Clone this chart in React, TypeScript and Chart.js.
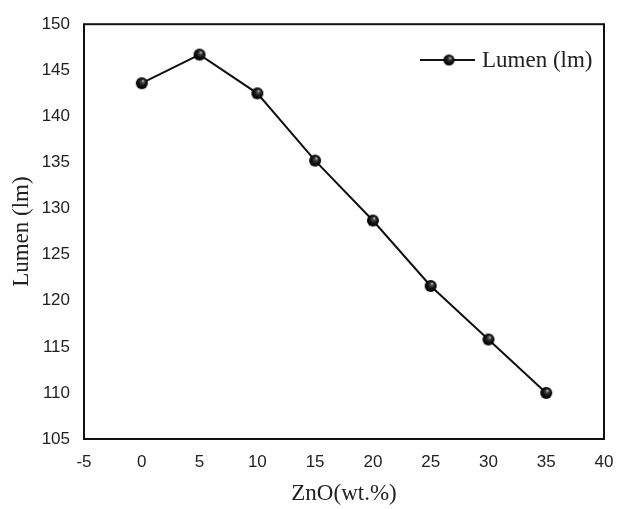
import React, { useEffect, useRef } from "react";
import { Chart, registerables } from "chart.js";

Chart.register(...registerables);

const zno: number[] = [0, 5, 10, 15, 20, 25, 30, 35];
const lumen: number[] = [143.6, 146.7, 142.5, 135.2, 128.7, 121.6, 115.8, 110.0];
const seriesLabel = "Lumen (lm)";
const xTitle = "ZnO(wt.%)";
const yTitle = "Lumen (lm)";

function makeSphere(r: number): HTMLCanvasElement {
  const size = Math.ceil(r * 2 + 2);
  const c = document.createElement("canvas");
  c.width = size;
  c.height = size;
  const ctx = c.getContext("2d")!;
  const cx = size / 2;
  const cy = size / 2;
  const g = ctx.createRadialGradient(cx + r * 0.25, cy - r * 0.4, 0.2, cx, cy, r);
  g.addColorStop(0, "#c8c8c8");
  g.addColorStop(0.25, "#444");
  g.addColorStop(0.6, "#111");
  g.addColorStop(1, "#000");
  ctx.fillStyle = g;
  ctx.beginPath();
  ctx.arc(cx, cy, r, 0, Math.PI * 2);
  ctx.fill();
  return c;
}

export default function App() {
  const ref = useRef<HTMLCanvasElement | null>(null);
  useEffect(() => {
    if (!ref.current) return;
    const sphere = makeSphere(6);
    const legendSphere = makeSphere(5.5);

    const framePlugin = {
      id: "frame",
      afterDatasetsDraw(chart: any) {
        const { ctx, chartArea } = chart;
        ctx.save();
        ctx.strokeStyle = "#111";
        ctx.lineWidth = 2;
        ctx.strokeRect(chartArea.left, chartArea.top, chartArea.right - chartArea.left, chartArea.bottom - chartArea.top);
        ctx.restore();
      },
      afterDraw(chart: any) {
        const { ctx } = chart;
        ctx.save();
        const y = 60;
        ctx.strokeStyle = "#111";
        ctx.lineWidth = 2;
        ctx.beginPath();
        ctx.moveTo(420, y);
        ctx.lineTo(475, y);
        ctx.stroke();
        ctx.drawImage(legendSphere, 449 - legendSphere.width / 2, y - legendSphere.height / 2);
        ctx.fillStyle = "#222";
        ctx.font = "23px 'Liberation Serif', 'Times New Roman', serif";
        ctx.textBaseline = "middle";
        ctx.textAlign = "left";
        ctx.fillText(seriesLabel, 482, y + 1);
        ctx.restore();
      },
    };

    const chart = new Chart(ref.current, {
      type: "scatter",
      data: {
        datasets: [
          {
            label: seriesLabel,
            data: zno.map((x, i) => ({ x, y: lumen[i] })),
            showLine: true,
            borderColor: "#111",
            borderWidth: 2,
            pointStyle: sphere as any,
            pointRadius: 6,
            pointHoverRadius: 6,
          },
        ],
      },
      options: {
        responsive: false,
        animation: false,
        layout: { padding: { top: 19, right: 25, left: 0, bottom: 0 } },
        plugins: { legend: { display: false }, tooltip: { enabled: false } },
        scales: {
          x: {
            type: "linear",
            min: -5,
            max: 40,
            grid: { display: false, drawTicks: false },
            border: { display: false },
            ticks: {
              stepSize: 5,
              padding: 13,
              color: "#222",
              font: { family: "'Liberation Sans', Arial, sans-serif", size: 17 },
            },
            title: {
              display: true,
              text: xTitle,
              color: "#222",
              padding: { top: 0, bottom: 1 },
              font: { family: "'Liberation Serif', 'Times New Roman', serif", size: 23 },
            },
            afterFit(scale: any) {
              scale.height = 70;
            },
          },
          y: {
            type: "linear",
            min: 105,
            max: 150,
            grid: { display: false, drawTicks: false },
            border: { display: false },
            ticks: {
              stepSize: 5,
              padding: 14,
              color: "#222",
              font: { family: "'Liberation Sans', Arial, sans-serif", size: 17 },
            },
            title: {
              display: true,
              text: yTitle,
              color: "#222",
              padding: { top: 8, bottom: 0 },
              font: { family: "'Liberation Serif', 'Times New Roman', serif", size: 23 },
            },
            afterFit(scale: any) {
              scale.width = 84;
            },
          },
        },
      },
      plugins: [framePlugin],
    });
    return () => chart.destroy();
  }, []);
  return (
    <div style={{ position: "absolute", left: 0, top: 0, width: 629, height: 509, background: "#fff" }}>
      <canvas ref={ref} width={629} height={509} style={{ display: "block" }} />
    </div>
  );
}
